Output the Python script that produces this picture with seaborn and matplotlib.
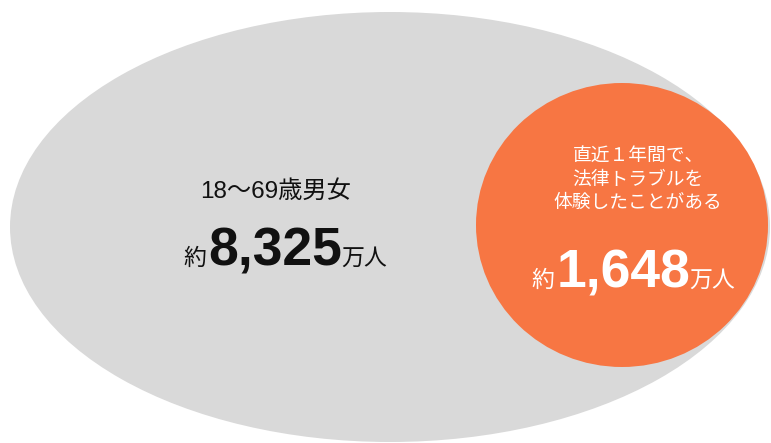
import matplotlib
matplotlib.use("Agg")
import matplotlib.pyplot as plt
from matplotlib.patches import Ellipse
import seaborn as sns

# --- Data (万人) ---
group_labels = ["18〜69歳男女", "直近１年間で、\n法律トラブルを\n体験したことがある"]
group_values = [8325, 1648]
value_prefix = "約"
value_unit = "万人"

# --- Style ---
fill_colors = ["#D9D9D9", "#F77643"]
text_colors = ["#111111", "#FFFFFF"]

sns.set_theme(style="white")
plt.rcParams["font.family"] = ["Liberation Sans", "Noto Sans CJK JP", "DejaVu Sans"]

W, H = 771, 443
fig = plt.figure(figsize=(W / 100, H / 100), dpi=100)
ax = fig.add_axes([0, 0, 1, 1])
ax.set_xlim(0, W)
ax.set_ylim(H, 0)
ax.axis("off")

# --- Layout (pixel units) ---
shapes = [((390, 227), 760, 430), ((622, 225), 292, 284)]
label_pos = [(276, 192), (638, 180)]
label_size = [17.5, 13.5]
label_spacing = [1.2, 1.45]
amount_pos = [(285, 265), (633, 287)]

for (center, w, h), col in zip(shapes, fill_colors):
    ax.add_patch(Ellipse(center, w, h, facecolor=col, edgecolor="none"))

for lab, (x, y), fs, ls, tc in zip(group_labels, label_pos, label_size,
                                   label_spacing, text_colors):
    ax.text(x, y, lab, ha="center", va="center", fontsize=fs, color=tc,
            linespacing=ls)


def draw_amount(x_center, y_base, value, color):
    parts = [
        (value_prefix, 16.5, "normal"),
        (f"{value:,}", 38.5, "bold"),
        (value_unit, 16.5, "normal"),
    ]
    gaps = [2, -1, 0]
    texts = [ax.text(0, y_base, s, fontsize=fs, fontweight=fw, color=color,
                     ha="left", va="baseline") for s, fs, fw in parts]
    renderer = fig.canvas.get_renderer()
    widths = [t.get_window_extent(renderer).width for t in texts]
    total = sum(widths) + sum(gaps[:-1])
    x = x_center - total / 2
    for t, wd, g in zip(texts, widths, gaps):
        t.set_x(x)
        x += wd + g


for val, (x, y), tc in zip(group_values, amount_pos, text_colors):
    draw_amount(x, y, val, tc)

fig.savefig("out.png", dpi=100, facecolor="white")
